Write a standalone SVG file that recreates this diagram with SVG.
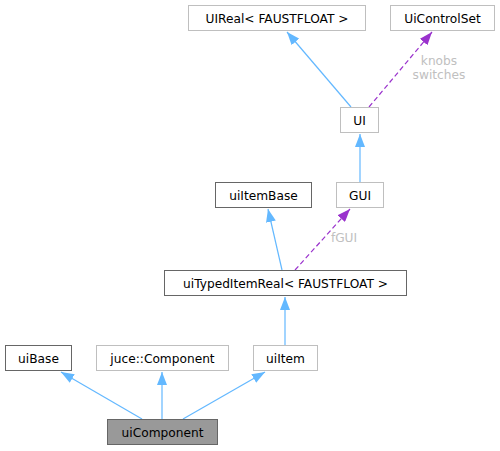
<svg xmlns="http://www.w3.org/2000/svg" width="500" height="451" viewBox="0 0 500 451">
<style>
.n rect{fill:#ffffff;stroke:#bfbfbf;stroke-width:1}
.n.d rect{stroke:#666666}
.n.c rect{fill:#999999;stroke:#666666}
.n text{font-family:"DejaVu Sans",sans-serif;font-size:12.2px;fill:#000000;text-anchor:middle}
.e{fill:none;stroke:#63b8ff;stroke-width:1.2}
.u{fill:none;stroke:#9a32cd;stroke-width:1.2;stroke-dasharray:5,3}
.l{font-family:"DejaVu Sans",sans-serif;font-size:12.2px;fill:#c0c0c0;text-anchor:middle}
</style>
<defs>
<marker id="ab" markerUnits="userSpaceOnUse" markerWidth="13" markerHeight="10" viewBox="0 0 13 10" refX="13" refY="5" orient="auto"><path d="M0,0 L13,5 L0,10 z" fill="#63b8ff"/></marker>
<marker id="ap" markerUnits="userSpaceOnUse" markerWidth="13" markerHeight="10" viewBox="0 0 13 10" refX="13" refY="5" orient="auto"><path d="M0,0 L13,5 L0,10 z" fill="#9a32cd"/></marker>
</defs>
<g id="edges">
<line class="e" x1="142" y1="419" x2="61" y2="372" marker-end="url(#ab)"/>
<line class="e" x1="162" y1="419" x2="162" y2="372" marker-end="url(#ab)"/>
<line class="e" x1="183" y1="419" x2="265" y2="372" marker-end="url(#ab)"/>
<line class="e" x1="285" y1="345" x2="285" y2="297" marker-end="url(#ab)"/>
<line class="e" x1="282" y1="270" x2="268" y2="209" marker-end="url(#ab)"/>
<line class="u" x1="295" y1="270" x2="350" y2="209" marker-end="url(#ap)"/>
<text class="l" x="344" y="242">fGUI</text>
<line class="e" x1="360" y1="182" x2="360" y2="134" marker-end="url(#ab)"/>
<line class="e" x1="351" y1="107" x2="287" y2="32" marker-end="url(#ab)"/>
<line class="u" x1="369" y1="107" x2="432" y2="32" marker-end="url(#ap)"/>
<text class="l" x="439" y="65">knobs</text>
<text class="l" x="439" y="79">switches</text>
</g>
<g id="UIReal" class="n"><rect x="188.5" y="5.5" width="177" height="25"/><text x="277" y="22.5">UIReal&lt; FAUSTFLOAT &gt;</text></g>
<g id="UiControlSet" class="n"><rect x="390.5" y="5.5" width="104" height="25"/><text x="442.5" y="22.5">UiControlSet</text></g>
<g id="UI" class="n"><rect x="340.5" y="107.5" width="38" height="25"/><text x="359.5" y="124.5">UI</text></g>
<g id="GUI" class="n"><rect x="336.5" y="182.5" width="47" height="25"/><text x="360" y="199.5">GUI</text></g>
<g id="uiItemBase" class="n d"><rect x="215.5" y="182.5" width="96" height="25"/><text x="263.5" y="199.5">uiItemBase</text></g>
<g id="uiTypedItemReal" class="n d"><rect x="164.5" y="270.5" width="242" height="25"/><text x="285.5" y="287.5">uiTypedItemReal&lt; FAUSTFLOAT &gt;</text></g>
<g id="uiBase" class="n d"><rect x="5.5" y="345.5" width="66" height="25"/><text x="38.5" y="362.5">uiBase</text></g>
<g id="juceComponent" class="n"><rect x="96.5" y="345.5" width="132" height="25"/><text x="162.5" y="362.5">juce::Component</text></g>
<g id="uiItem" class="n"><rect x="253.5" y="345.5" width="64" height="25"/><text x="285.5" y="362.5">uiItem</text></g>
<g id="uiComponent" class="n c"><rect x="107.5" y="419.5" width="110" height="25"/><text x="162.5" y="436.5">uiComponent</text></g>
</svg>
